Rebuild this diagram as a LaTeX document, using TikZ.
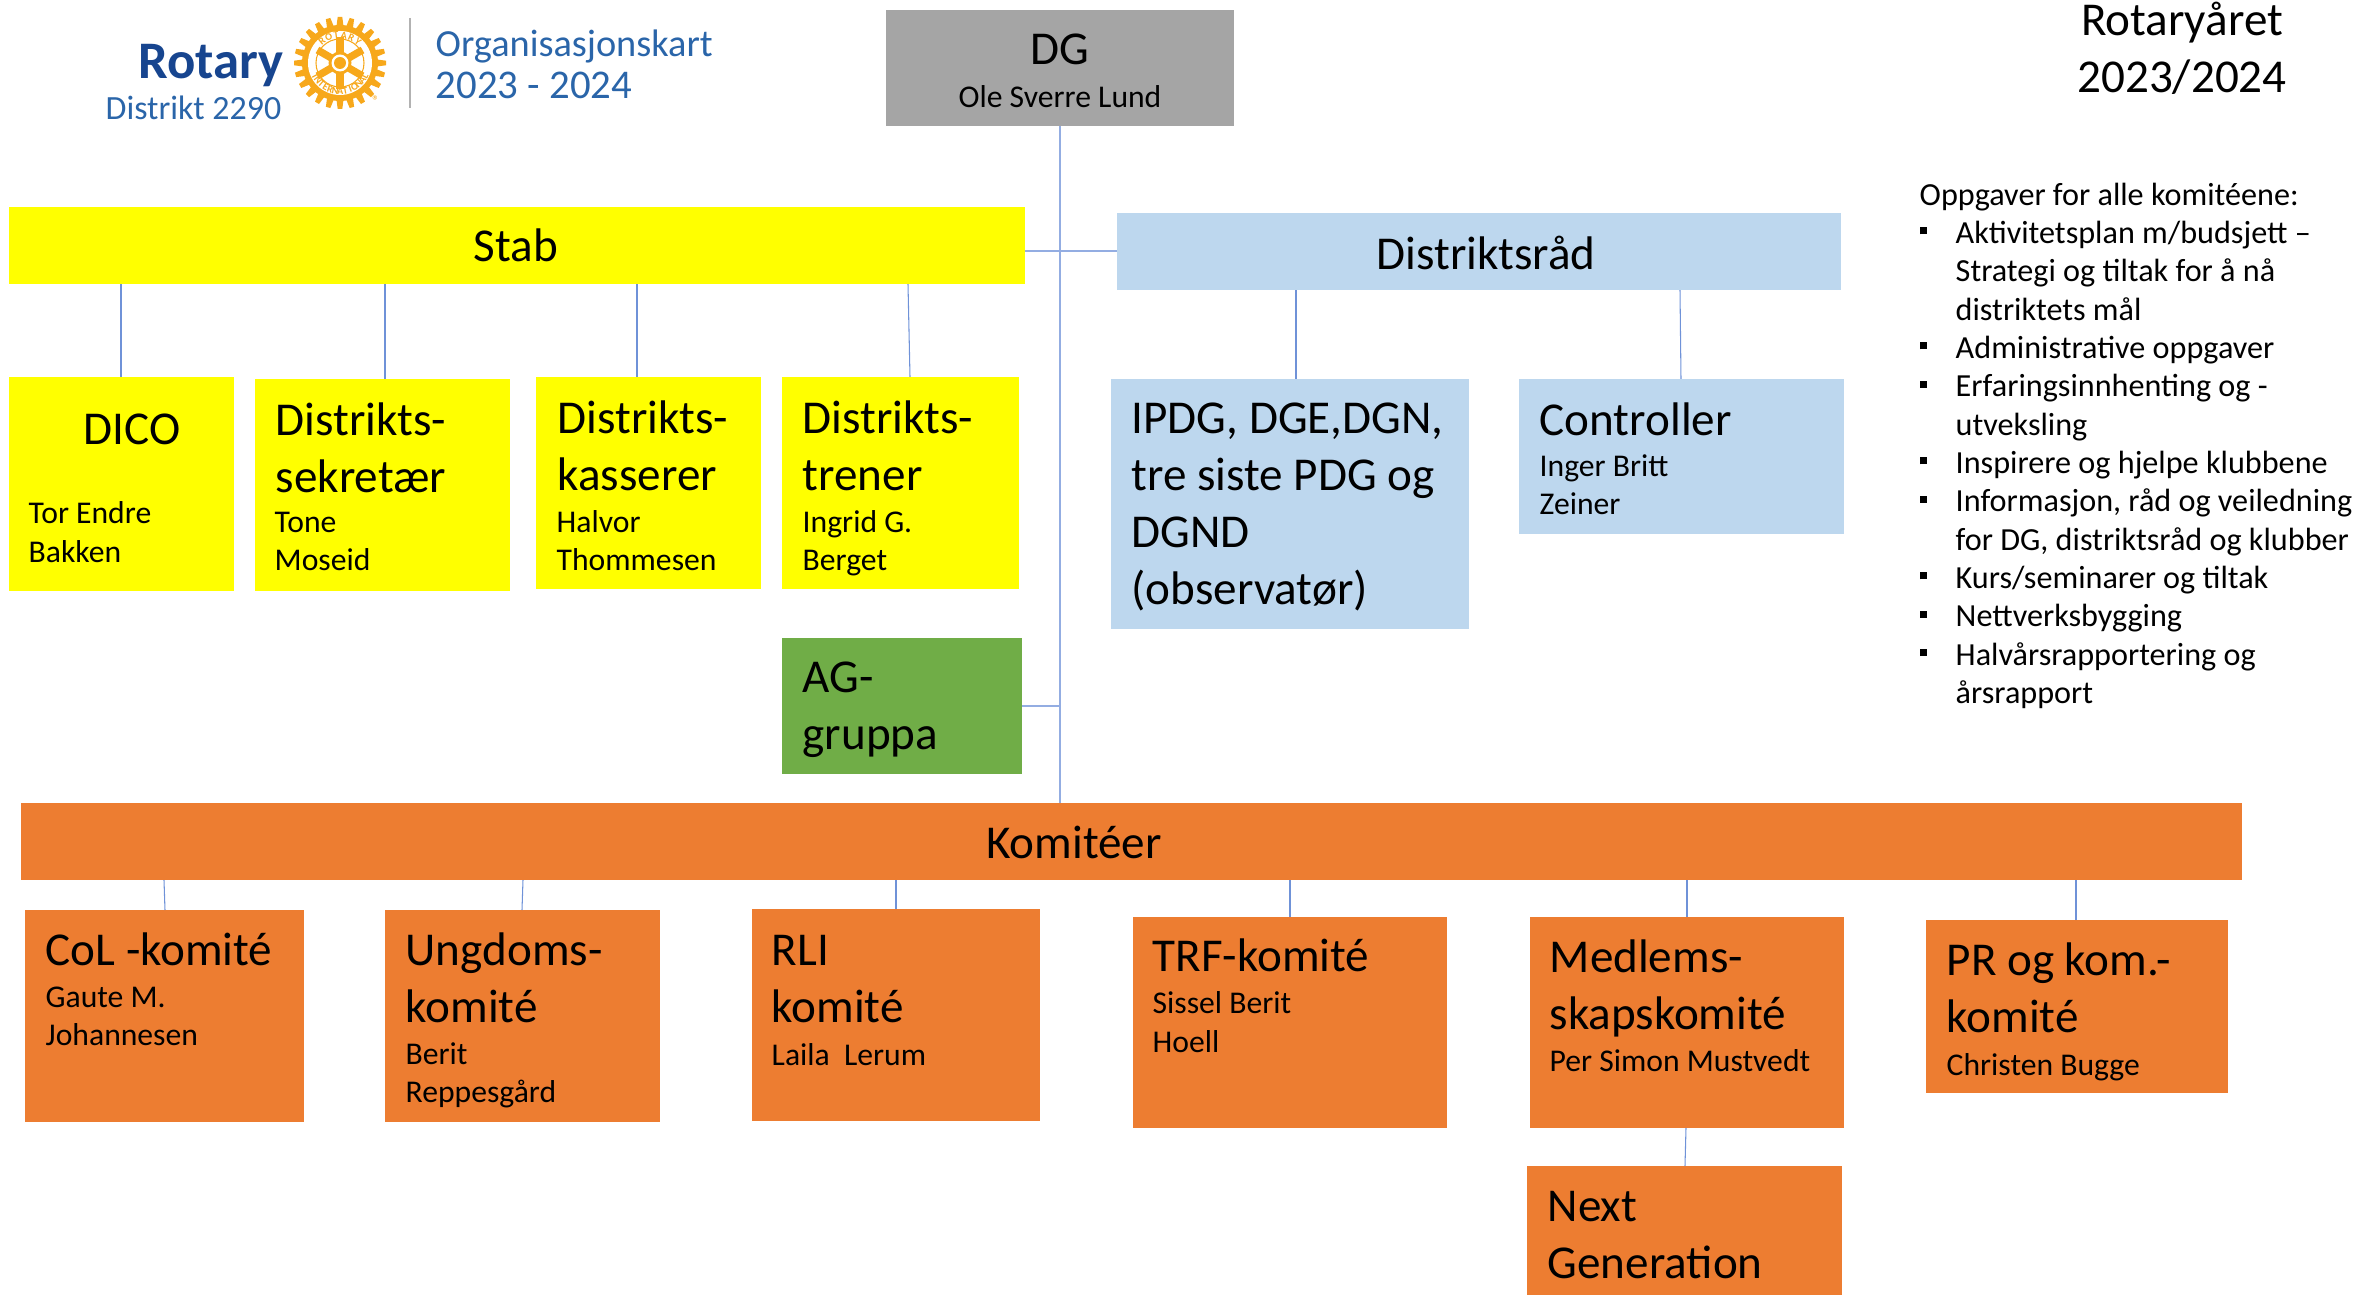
\documentclass[tikz,border=0pt]{standalone}
\usepackage{fontspec}
\setmainfont{Carlito}
\definecolor{stabyellow}{HTML}{FFFF00}
\definecolor{raadblue}{HTML}{BDD7EE}
\definecolor{komorange}{HTML}{ED7D31}
\definecolor{aggreen}{HTML}{70AD47}
\definecolor{dggray}{HTML}{A5A5A5}
\definecolor{linkblue}{HTML}{6F92D8}
\definecolor{rotarygold}{HTML}{F7A81B}
\definecolor{rotaryblue}{HTML}{17458F}
\definecolor{kartblue}{HTML}{2A65A9}
\tikzset{
    chartbox/.style={anchor=north west, inner sep=0, outer sep=0},
    bigtext/.style={font=\fontsize{13.4}{16.2}\selectfont, anchor=north west, inner sep=0, align=left, execute at begin node=\strut},
    nametext/.style={font=\fontsize{9}{10.9}\selectfont, anchor=north west, inner sep=0, align=left, execute at begin node=\strut},
    headtext/.style={font=\fontsize{13.4}{16.2}\selectfont, anchor=base, inner sep=0},
    link/.style={draw=linkblue, line width=0.3pt},
    mainlink/.style={draw=linkblue!75, line width=0.45pt},
    wheelletter/.style={inner sep=0, text=rotarygold, font=\fontsize{2.9}{3}\selectfont\bfseries},
}
\newcommand{\bulletmark}{\makebox[0.36cm][l]{\rule[0.09cm]{0.07cm}{0.07cm}}}
\newcommand{\bulletrest}{\hspace*{0.36cm}}
\begin{document}
\begin{tikzpicture}[x=0.01cm, y=-0.01cm]
    \useasboundingbox (0,0) rectangle (2356,1295);

    \node[chartbox, fill=dggray, minimum width=3.48cm, minimum height=1.16cm] (dg) at (886,10) {};
    \node[chartbox, fill=stabyellow, minimum width=10.15cm, minimum height=0.77cm] (stab) at (9,207) {};
    \node[chartbox, fill=raadblue, minimum width=7.24cm, minimum height=0.77cm] (distr) at (1117,213) {};
    \node[chartbox, fill=stabyellow, minimum width=2.25cm, minimum height=2.14cm] (dico) at (9,377) {};
    \node[chartbox, fill=stabyellow, minimum width=2.55cm, minimum height=2.12cm] (sekr) at (255,379) {};
    \node[chartbox, fill=stabyellow, minimum width=2.25cm, minimum height=2.12cm] (kass) at (536,377) {};
    \node[chartbox, fill=stabyellow, minimum width=2.37cm, minimum height=2.12cm] (tren) at (782,377) {};
    \node[chartbox, fill=aggreen, minimum width=2.40cm, minimum height=1.36cm] (ag) at (782,638) {};
    \node[chartbox, fill=raadblue, minimum width=3.58cm, minimum height=2.50cm] (ipdg) at (1111,379) {};
    \node[chartbox, fill=raadblue, minimum width=3.25cm, minimum height=1.55cm] (ctrl) at (1519,379) {};
    \node[chartbox, fill=komorange, minimum width=22.20cm, minimum height=0.77cm] (kom) at (21,803) {};
    \node[chartbox, fill=komorange, minimum width=2.79cm, minimum height=2.12cm] (col) at (25,910) {};
    \node[chartbox, fill=komorange, minimum width=2.75cm, minimum height=2.12cm] (ung) at (385,910) {};
    \node[chartbox, fill=komorange, minimum width=2.88cm, minimum height=2.12cm] (rli) at (752,909) {};
    \node[chartbox, fill=komorange, minimum width=3.14cm, minimum height=2.11cm] (trf) at (1133,917) {};
    \node[chartbox, fill=komorange, minimum width=3.14cm, minimum height=2.11cm] (med) at (1530,917) {};
    \node[chartbox, fill=komorange, minimum width=3.02cm, minimum height=1.73cm] (pr) at (1926,920) {};
    \node[chartbox, fill=komorange, minimum width=3.15cm, minimum height=1.30cm] (next) at (1527,1166) {};

    \draw[mainlink] (dg.south) -- (dg.south |- kom.north);
    \draw[mainlink] (stab.east |- 0,251) -- (distr.west |- 0,251);
    \draw[mainlink] (ag.east) -- (ag.east -| dg.south);
    \draw[link] (stab.south -| 121,0) -- (dico.north -| 121,0);
    \draw[link] (stab.south -| 385,0) -- (sekr.north -| 385,0);
    \draw[link] (stab.south -| 637,0) -- (kass.north -| 637,0);
    \draw[link] (stab.south -| 908,0) -- (tren.north -| 910,0);
    \draw[link] (distr.south -| 1296,0) -- (ipdg.north -| 1296,0);
    \draw[link] (distr.south -| 1680,0) -- (ctrl.north -| 1681,0);
    \draw[link] (kom.south -| 164,0) -- (col.north -| 165,0);
    \draw[link] (kom.south -| 523,0) -- (ung.north -| 522,0);
    \draw[link] (kom.south -| 896,0) -- (rli.north -| 896,0);
    \draw[link] (kom.south -| 1290,0) -- (trf.north -| 1290,0);
    \draw[link] (kom.south -| 1687,0) -- (med.north -| 1687,0);
    \draw[link] (kom.south -| 2076,0) -- (pr.north -| 2076,0);
    \draw[link] (med.south -| 1686,0) -- (next.north -| 1685,0);

    \node[headtext] (dgtitle) at (1060,65) {DG};
    \node[nametext, anchor=base] (dgname) at (1060,108) {Ole Sverre Lund};
    \node[headtext] (stabtitle) at (516,262) {Stab};
    \node[headtext] (distrtitle) at (1486,270) {Distriktsråd};
    \node[headtext] (komtitle) at (1074,859) {Komitéer};

    \node[bigtext] (dicotitle) at (83,404) {DICO};
    \node[nametext] (diconame) at (28,501) {Tor Endre\\Bakken};
    \node[bigtext] (sekrtitle) at (275,402) {Distrikts-\\sekretær};
    \node[nametext] (sekrname) at (274,511) {Tone\\Moseid};
    \node[bigtext] (kasstitle) at (557,400) {Distrikts-\\kasserer};
    \node[nametext] (kassname) at (556,510) {Halvor\\Thommesen};
    \node[bigtext] (trentitle) at (802,400) {Distrikts-\\trener};
    \node[nametext] (trenname) at (802,510) {Ingrid G.\\Berget};
    \node[bigtext] (agtitle) at (802,661) {AG-\\gruppa};
    \node[bigtext] (ipdgtitle) at (1131,402) {IPDG, DGE,DGN,\\tre siste PDG og\\DGND\\(observatør)};
    \node[bigtext] (ctrltitle) at (1539,395) {Controller};
    \node[nametext] (ctrlname) at (1539,454) {Inger Britt\\Zeiner};
    \node[bigtext] (coltitle) at (45,925) {CoL -komité};
    \node[nametext] (colname) at (45,986) {Gaute M.\\Johannesen};
    \node[bigtext] (ungtitle) at (405,932) {Ungdoms-\\komité};
    \node[nametext] (ungname) at (405,1042) {Berit\\Reppesgård};
    \node[bigtext] (rlititle) at (771,935) {RLI\\komité};
    \node[nametext] (rliname) at (771,1038) {Laila~~Lerum};
    \node[bigtext] (trftitle) at (1152,931) {TRF-komité};
    \node[nametext] (trfname) at (1152,991) {Sissel Berit\\Hoell};
    \node[bigtext] (medtitle) at (1549,939) {Medlems-\\skapskomité};
    \node[nametext] (medname) at (1549,1044) {Per Simon Mustvedt};
    \node[bigtext] (prtitle) at (1946,942) {PR og kom.-\\komité};
    \node[nametext] (prname) at (1946,1048) {Christen Bugge};
    \node[bigtext] (nexttitle) at (1547,1191) {Next\\Generation};

    \node[bigtext, anchor=north, align=center] (year) at (2182,1) {Rotaryåret\\2023/2024};
    \node[nametext, font=\fontsize{9.15}{10.9}\selectfont] (tasks) at (1919,182) {Oppgaver for alle komitéene:\\
        \bulletmark Aktivitetsplan m/budsjett --\\
        \bulletrest Strategi og tiltak for å nå\\
        \bulletrest distriktets mål\\
        \bulletmark Administrative oppgaver\\
        \bulletmark Erfaringsinnhenting og -\\
        \bulletrest utveksling\\
        \bulletmark Inspirere og hjelpe klubbene\\
        \bulletmark Informasjon, råd og veiledning\\
        \bulletrest for DG, distriktsråd og klubber\\
        \bulletmark Kurs/seminarer og tiltak\\
        \bulletmark Nettverksbygging\\
        \bulletmark Halvårsrapportering og\\
        \bulletrest årsrapport};

    \node[anchor=base west, inner sep=0, text=rotaryblue, font=\fontsize{15}{17}\selectfont\bfseries] (rotary) at (138,79) {Rotary};
    \node[anchor=base west, inner sep=0, text=kartblue, font=\fontsize{9.65}{11}\selectfont] (district) at (105,120) {Distrikt 2290};
    \node[anchor=base west, inner sep=0, text=kartblue, font=\fontsize{10.9}{13}\selectfont] (kart) at (435,57) {Organisasjonskart};
    \node[anchor=base west, inner sep=0, text=kartblue, font=\fontsize{11.6}{13}\selectfont] (kartyear) at (435,99) {2023 - 2024};
    \coordinate (septop) at (410,18);
    \coordinate (sepbot) at (410,108);
    \draw[gray!60, line width=0.4pt] (septop) -- (sepbot);

    \begin{scope}[shift={(340,63)}, x=0.01cm, y=0.01cm]
        \fill[rotarygold] (0,0) circle (38);
        \foreach \a in {0,15,...,345}
            \fill[rotarygold, rotate=\a] (-3.6,36) -- (-2.3,46) -- (2.3,46) -- (3.6,36) -- cycle;
        \fill[white] (0,0) circle (32);
        \draw[rotarygold, line width=0.3pt] (0,0) circle (24);
        \draw[rotarygold, line width=2.1pt] (90:8) -- (90:26) (270:8) -- (270:26);
        \draw[rotarygold, line width=2.1pt] (30:8) -- (30:26) (210:8) -- (210:26);
        \draw[rotarygold, line width=2.1pt] (150:8) -- (150:26) (330:8) -- (330:26);
        \fill[rotarygold] (0,0) circle (11.5);
        \fill[white] (0,0) circle (8.5);
        \fill[rotarygold] (0,0) circle (6);
        \foreach \ch [count=\i] in {R,O,T,A,R,Y}
            \node[wheelletter, rotate={130-(\i-1)*16-90}] (top\i) at ({130-(\i-1)*16}:28) {\ch};
        \foreach \ch [count=\i] in {I,N,T,E,R,N,A,T,I,O,N,A,L}
            \node[wheelletter, rotate={208+(\i-1)*10.4+90}] (bot\i) at ({208+(\i-1)*10.4}:28) {\ch};
    \end{scope}
    \node[inner sep=0, text=rotarygold, font=\fontsize{4}{5}\selectfont] (regmark) at (376,101) {®};
\end{tikzpicture}
\end{document}
